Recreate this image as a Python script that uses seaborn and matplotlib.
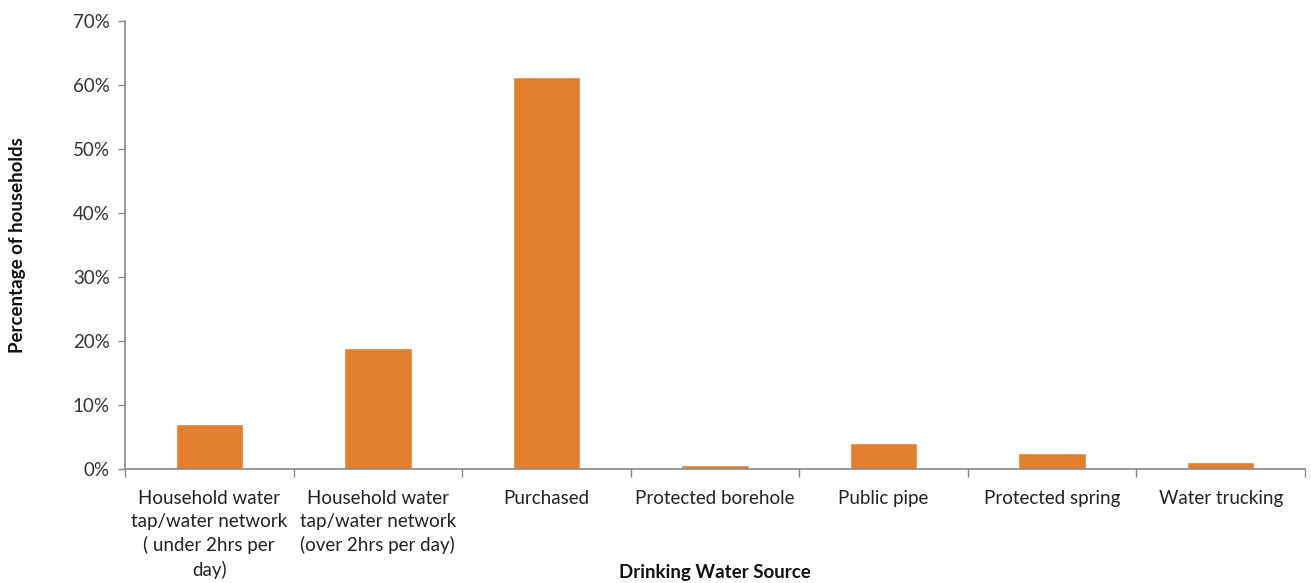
import matplotlib
matplotlib.use("Agg")
import matplotlib.pyplot as plt
import seaborn as sns
import pandas as pd
import numpy as np
from matplotlib.ticker import FuncFormatter, FixedLocator

categories = [
    "Household water\ntap/water network\n( under 2hrs per\nday)",
    "Household water\ntap/water network\n(over 2hrs per day)",
    "Purchased",
    "Protected borehole",
    "Public pipe",
    "Protected spring",
    "Water trucking",
]
values = [7.0, 18.9, 61.3, 0.6, 4.1, 2.5, 1.1]

sns.set_theme(style="white")
plt.rcParams['font.family'] = ['Lato', 'DejaVu Sans']

df = pd.DataFrame({"source": categories, "pct": values})

fig = plt.figure(figsize=(13.11, 5.83), dpi=100)
ax = fig.add_axes([0.0953, 0.1955, 0.9001, 0.7685])
sns.barplot(data=df, x="source", y="pct", color="#E27F2F", saturation=1,
            width=0.40, ax=ax)

ax.set_ylim(0, 70)
ax.set_xlim(-0.5, len(categories) - 0.5)
ax.set_yticks(np.arange(0, 71, 10))
ax.yaxis.set_major_formatter(FuncFormatter(lambda v, p: f"{int(v)}%"))
ax.tick_params(axis="y", which="major", length=5, width=1, color="#888888",
               labelsize=13.5, labelcolor="#333333", pad=6, left=True)
ax.tick_params(axis="x", which="major", length=0, labelsize=13.5,
               labelcolor="#222222", pad=15)
for lbl in ax.get_xticklabels():
    lbl.set_linespacing(1.42)
ax.xaxis.set_minor_locator(FixedLocator(np.arange(-0.5, len(categories), 1.0)))
ax.tick_params(axis="x", which="minor", length=6, width=1, color="#888888",
               bottom=True)

for s in ["top", "right"]:
    ax.spines[s].set_visible(False)
for s in ["left", "bottom"]:
    ax.spines[s].set_color("#888888")
    ax.spines[s].set_linewidth(1.2)

ax.set_xlabel("Drinking Water Source", fontsize=13.5, fontweight="bold",
              color="#111111", va="center")
ax.xaxis.set_label_coords(0.5, (469 - 572) / 448)
ax.set_ylabel("Percentage of households", fontsize=13.5, fontweight="bold",
              color="#111111", va="center")
ax.yaxis.set_label_coords((18 - 125) / 1180, 0.5)

fig.savefig("out.png", dpi=100)
